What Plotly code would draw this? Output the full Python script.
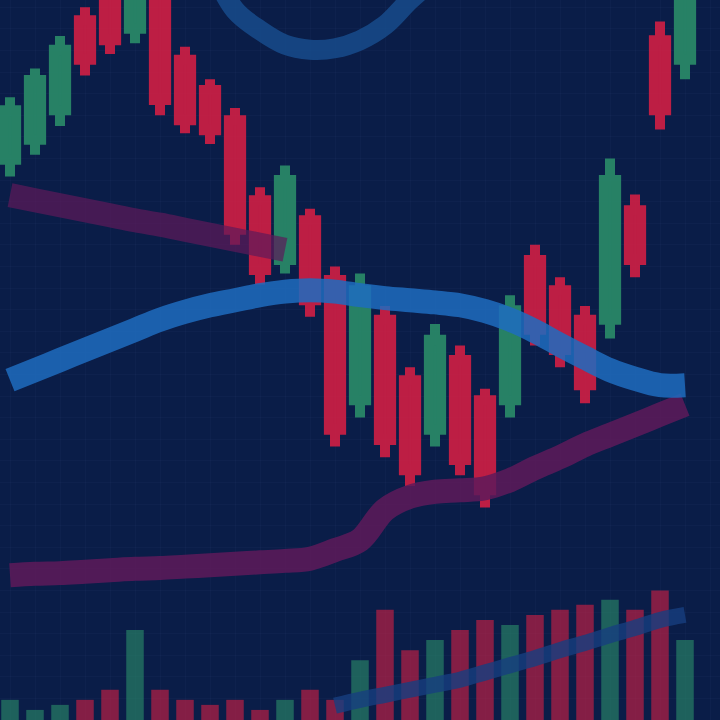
import plotly.graph_objects as go

# ---- data (price units 0-100 over the full height) ----
idx = list(range(28))
opens  = [77.8, 80.6, 84.7, 97.2, 101.0, 96.0, 103.0, 91.7, 87.5, 83.3, 72.2, 63.9, 69.4, 61.1,
          44.4, 55.6, 47.2, 40.3, 50.0, 44.4, 44.4, 63.9, 59.7, 55.6, 55.6, 70.8, 94.4, 91.7]
closes = [84.7, 88.9, 93.1, 91.7, 94.4, 102.0, 86.1, 83.3, 81.9, 68.1, 62.5, 75.0, 58.3, 40.3,
          59.7, 38.9, 34.7, 52.8, 36.1, 31.9, 56.9, 54.2, 51.4, 46.5, 75.0, 63.9, 84.7, 101.0]
highs  = [86.5, 90.5, 95.0, 99.0, 103.0, 104.0, 105.0, 93.5, 89.0, 85.0, 74.0, 77.0, 71.0, 63.0,
          62.0, 57.5, 49.0, 55.0, 52.0, 46.0, 59.0, 66.0, 61.5, 57.5, 78.0, 73.0, 97.0, 104.0]
lows   = [75.5, 78.5, 82.5, 89.5, 92.5, 94.0, 84.0, 81.5, 80.0, 66.0, 60.5, 62.0, 56.0, 38.0,
          42.0, 36.5, 32.5, 38.0, 34.0, 29.5, 42.0, 52.0, 49.0, 44.0, 53.0, 61.5, 82.0, 89.0]
volume = [2.8, 1.4, 2.1, 2.8, 4.2, 12.5, 4.2, 2.8, 2.1, 2.8, 1.4, 2.8, 4.2, 2.8,
          8.3, 15.3, 9.7, 11.1, 12.5, 13.9, 13.2, 14.6, 15.3, 16.0, 16.7, 15.3, 18.0, 11.1]
ma_blue = [47.2, 48.6, 50.0, 51.4, 52.8, 54.2, 55.6, 56.7, 57.6, 58.3, 59.0, 59.5, 59.7, 59.5,
           59.0, 58.6, 58.3, 58.0, 57.6, 56.8, 55.6, 54.0, 52.1, 50.3, 48.6, 47.4, 46.5, 46.5]
ma_purple_up = [72.9, 72.2, 71.5, 70.8, 70.1, 69.4, 68.8, 68.1, 67.4, 66.7, 66.0, 65.3,
                None, None, None, None, None, None, None, None, None, None, None, None,
                None, None, None, None]
ma_purple_low = [20.1, 20.3, 20.4, 20.6, 20.8, 21.0, 21.1, 21.3, 21.5, 21.7, 21.9, 22.1, 22.4, 23.6,
                 25.0, 29.2, 31.0, 31.7, 31.9, 32.2, 33.3, 35.0, 36.5, 38.2, 39.6, 41.0, 42.4, 43.8]
ma_blue_top = [None, None, None, None, None, None, None, None, 105.0, 98.6, 95.8, 93.8, 93.1, 93.3,
               94.4, 96.5, 100.0, 103.0, None, None, None, None, None, None, None, None, None, None]
vol_ma = [None] * 13 + [2.0, 2.8, 3.5, 4.2, 4.9, 5.6, 6.6, 7.6, 8.6, 9.7, 10.7, 11.8, 12.8, 13.9, 14.6]

RED = "#d61f44"
GREEN = "#2b8f6a"
BLUE = "#1e6cc0"
PURPLE = "#5e1a5a"
BG = "#081a42"

vol_colors = ["rgba(43,143,106,0.6)" if c >= o else "rgba(214,31,68,0.6)" for o, c in zip(opens, closes)]

fig = go.Figure()

fig.add_trace(go.Scatter(x=idx, y=ma_purple_up, mode="lines", line=dict(color=PURPLE, width=24, shape="spline"),
                         opacity=0.7, connectgaps=False, hoverinfo="skip"))
fig.add_trace(go.Scatter(x=idx, y=ma_purple_low, mode="lines", line=dict(color=PURPLE, width=24, shape="spline"),
                         opacity=0.85, hoverinfo="skip"))
fig.add_trace(go.Scatter(x=idx, y=ma_blue, mode="lines", line=dict(color=BLUE, width=24, shape="spline"),
                         opacity=0.85, hoverinfo="skip"))
fig.add_trace(go.Scatter(x=idx, y=ma_blue_top, mode="lines", line=dict(color="#184f90", width=20, shape="spline"),
                         opacity=0.8, hoverinfo="skip"))

fig.add_trace(go.Bar(x=idx, y=volume, marker=dict(color=vol_colors, line=dict(width=0)),
                     width=0.7, yaxis="y2", hoverinfo="skip"))
fig.add_trace(go.Scatter(x=idx, y=vol_ma, mode="lines", yaxis="y2",
                         line=dict(color="#163f80", width=16, shape="spline"), opacity=0.8, hoverinfo="skip"))

fig.add_trace(go.Candlestick(
    x=idx, open=opens, high=highs, low=lows, close=closes,
    increasing=dict(line=dict(color=GREEN, width=10), fillcolor=GREEN),
    decreasing=dict(line=dict(color=RED, width=10), fillcolor=RED),
    whiskerwidth=0, opacity=0.88, hoverinfo="skip"))

fig.update_layout(
    width=720, height=720,
    margin=dict(l=0, r=0, t=0, b=0),
    paper_bgcolor=BG,
    plot_bgcolor="#0a1d48",
    showlegend=False,
    xaxis=dict(range=[-0.4, 28.4], showticklabels=False, showgrid=True,
               gridcolor="rgba(70,100,160,0.07)", dtick=1, zeroline=False,
               rangeslider=dict(visible=False), fixedrange=True),
    yaxis=dict(range=[0, 100], showticklabels=False, showgrid=True,
               gridcolor="rgba(70,100,160,0.07)", dtick=3, zeroline=False, fixedrange=True),
    yaxis2=dict(range=[0, 100], overlaying="y", showticklabels=False, showgrid=False,
                zeroline=False, fixedrange=True),
    bargap=0.3,
)

fig.write_html("out.html", config={"displayModeBar": False, "staticPlot": True},
               post_script="document.body.style.margin='0';document.body.style.background='" + BG + "';")
